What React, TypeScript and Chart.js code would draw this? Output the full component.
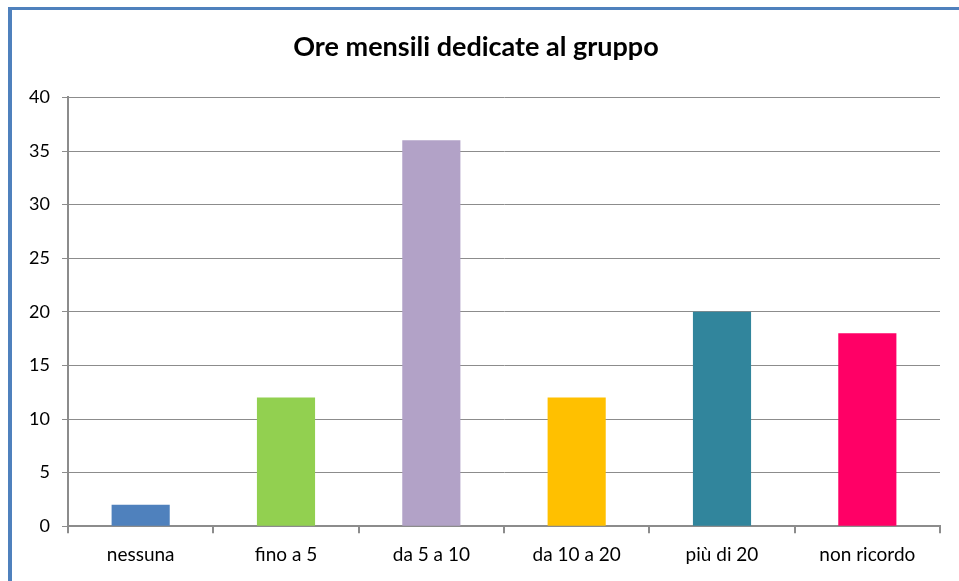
import React, { useEffect, useRef } from "react";
import { Chart, registerables } from "chart.js";

Chart.register(...registerables);

const categories = ["nessuna", "fino a 5", "da 5 a 10", "da 10 a 20", "più di 20", "non ricordo"];
const values = [2, 12, 36, 12, 20, 18];
const barColors = ["#4f81bd", "#92d050", "#b2a2c7", "#ffc000", "#31859c", "#ff0066"];
const titleText = "Ore mensili dedicate al gruppo";

export default function App() {
  const ref = useRef<HTMLCanvasElement>(null);
  useEffect(() => {
    if (!ref.current) return;
    const chart = new Chart(ref.current, {
      type: "bar",
      data: {
        labels: categories,
        datasets: [
          {
            data: values,
            backgroundColor: barColors,
            borderWidth: 0,
            categoryPercentage: 1,
            barPercentage: 0.4,
          },
        ],
      },
      options: {
        animation: false,
        responsive: false,
        maintainAspectRatio: false,
        layout: { padding: { left: 0, right: 19, top: 0, bottom: 5 } },
        plugins: {
          legend: { display: false },
          tooltip: { enabled: false },
          title: {
            display: true,
            text: titleText,
            color: "#000",
            font: { family: "Lato", size: 27, weight: "bold" },
            padding: { top: 21, bottom: 34 },
          },
        },
        scales: {
          x: {
            grid: {
              display: true,
              drawOnChartArea: false,
              drawTicks: true,
              tickLength: 7,
              color: "#8c8c8c",
              lineWidth: 2,
              offset: true,
            },
            border: { display: true, color: "#8c8c8c", width: 2 },
            ticks: {
              color: "#000",
              font: { family: "Lato", size: 19 },
              padding: 10,
            },
          },
          y: {
            min: 0,
            max: 40,
            afterFit: (s: any) => {
              s.width = 56;
            },
            grid: {
              color: "#8c8c8c",
              lineWidth: 1,
              tickLength: 6,
            },
            border: { display: true, color: "#8c8c8c", width: 2 },
            ticks: {
              stepSize: 5,
              color: "#000",
              font: { family: "Lato", size: 18 },
              padding: 12,
            },
          },
        },
      },
    });
    return () => chart.destroy();
  }, []);
  return (
    <div
      style={{
        position: "absolute",
        left: 8,
        top: 7,
        width: 1000,
        height: 620,
        borderLeft: "4px solid #4f81bd",
        borderTop: "3px solid #4f81bd",
        background: "#fff",
      }}
    >
      <canvas ref={ref} width={947} height={571} style={{ display: "block" }} />
    </div>
  );
}
